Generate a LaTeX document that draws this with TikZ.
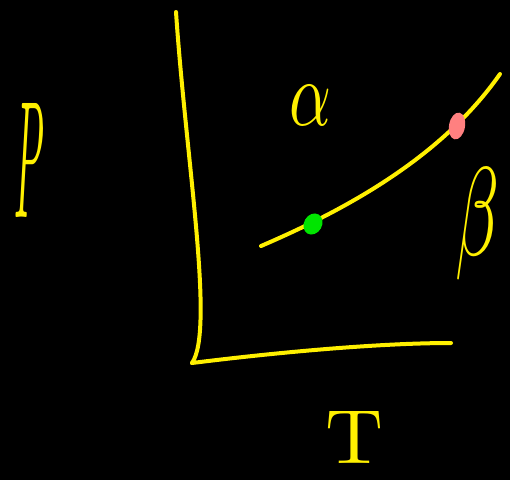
\documentclass[tikz,border=0pt]{standalone}
\usepackage{graphicx}
\usetikzlibrary{shapes.geometric}
\begin{document}
\begin{tikzpicture}[x=1pt,y=-1pt,
  pen/.style={draw=ylw,line width=4pt,line cap=round,line join=round},
  lbl/.style={text=ylw,inner sep=0pt},
  dotg/.style={fill=green!90!black,draw=none},
  dotp/.style={fill=pinkish,draw=none}]
\definecolor{ylw}{RGB}{255,240,0}
\definecolor{pinkish}{RGB}{255,128,128}
\fill[black] (0,0) rectangle (510,480);
\useasboundingbox (0,0) rectangle (510,480);
% axes
\coordinate (top) at (176,12);
\coordinate (corner) at (192,363);
\coordinate (right) at (451,343);
\draw[pen] (top) .. controls (186,160) and (215,330) .. (corner);
\draw[pen] (corner) .. controls (280,352) and (380,343) .. (right);
% coexistence curve
\coordinate (c0) at (261,246);
\coordinate (c1) at (500,74);
\draw[pen] (c0) .. controls (340,212) and (440,160) .. (c1);
% points
\node[dotg,ellipse,minimum width=18pt,minimum height=22pt,rotate=-30,inner sep=0pt] (g) at (313,224) {};
\node[dotp,ellipse,minimum width=16pt,minimum height=27pt,rotate=-10,inner sep=0pt] (pk) at (457,126) {};
% labels
\node[lbl] (P) at (30,160) {\resizebox*{30pt}{114pt}{$P$}};
\node[lbl] (al) at (310,105) {\resizebox*{42pt}{40pt}{$\alpha$}};
\node[lbl] (be) at (477,224) {\resizebox*{44pt}{112pt}{$\beta$}};
\node[lbl] (T) at (354,437) {\resizebox*{58pt}{52pt}{T}};
\end{tikzpicture}
\end{document}
